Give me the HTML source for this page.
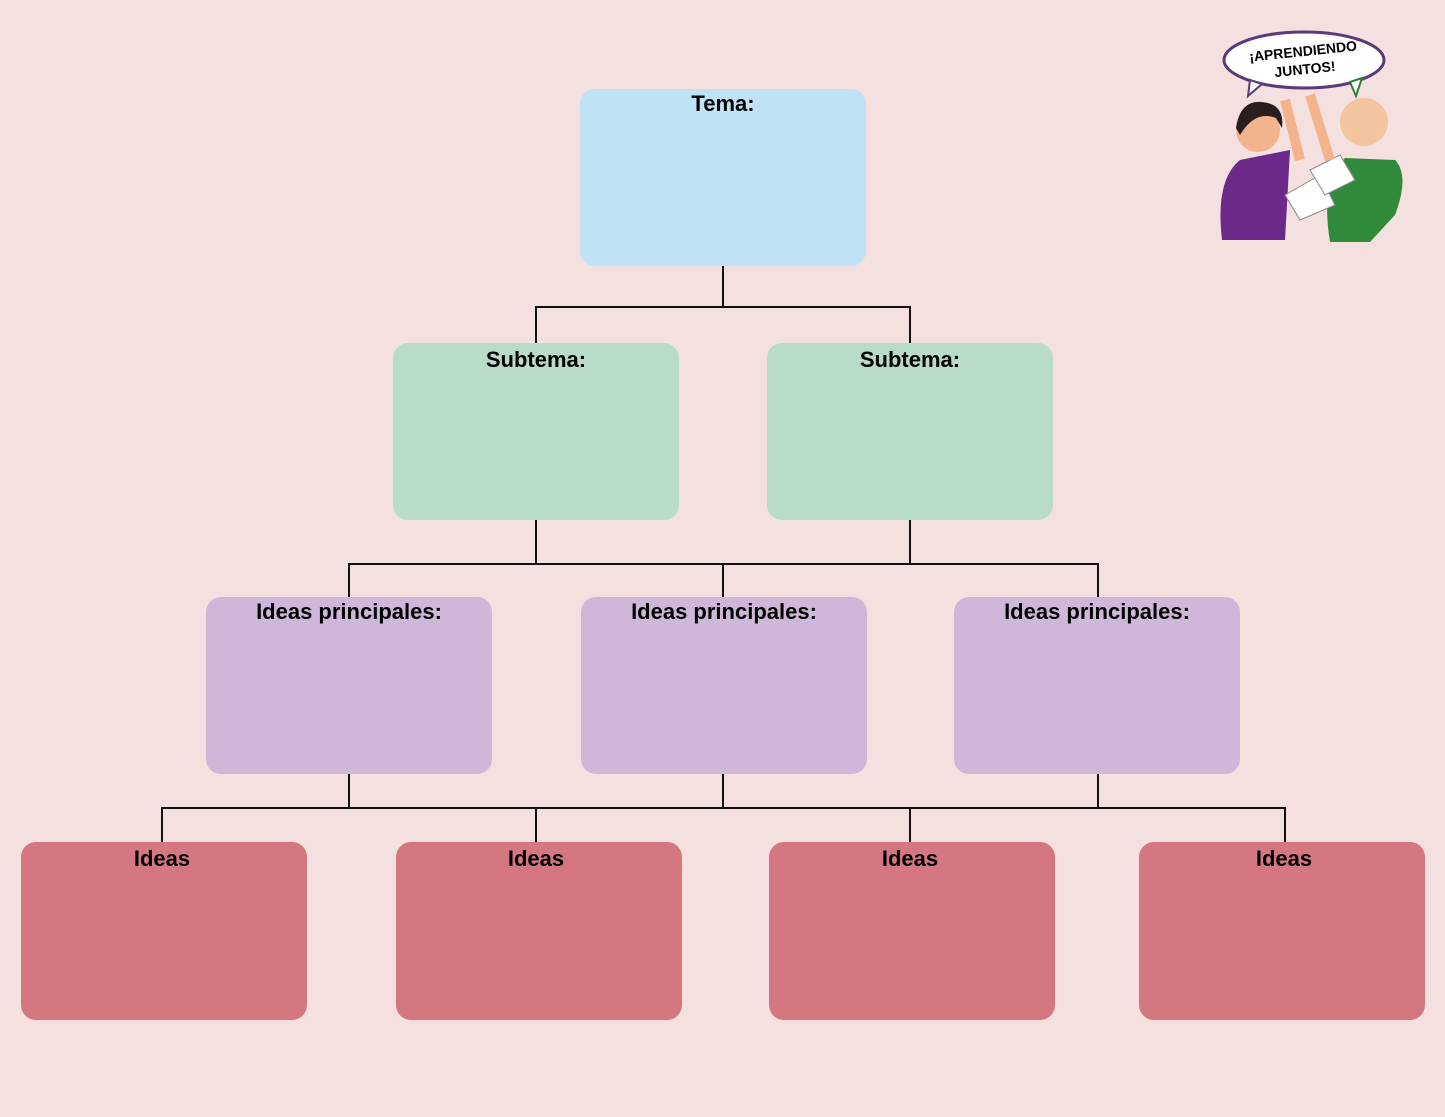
<!DOCTYPE html>
<html><head><style>
body{margin:0;width:1445px;height:1117px;background:#f3e0df;position:relative;overflow:hidden;font-family:"Liberation Sans",Arial,sans-serif}
.b{position:absolute;width:286px;height:177px;border-radius:15px;text-align:center;font-weight:bold;font-size:22px;line-height:1;padding-top:4px;box-sizing:border-box;color:#000}
.t{background:#c0e2f5}.s{background:#b8dcc8}.p{background:#cfb7da}.i{background:#d47780}
svg{position:absolute;left:0;top:0}
</style></head><body>
<svg width="1445" height="1117">
<g stroke="#111" stroke-width="2" fill="none">
<path d="M723 266V307M536 343V307H910V343"/>
<path d="M536 520V564M910 520V564M349 597V564H1098V597M723 564V597"/>
<path d="M349 774V808M723 774V808M1098 774V808M162 842V808H1285V842M536 808V842M910 808V842"/>
</g>
<g>
<ellipse cx="1304" cy="60" rx="80" ry="28" fill="#fff" stroke="#5a3a7a" stroke-width="3"/>
<path d="M1250 80 L1248 96 L1262 84Z" fill="#fff" stroke="#5a3a7a" stroke-width="2"/>
<path d="M1350 82 L1356 96 L1362 78Z" fill="#fff" stroke="#2e7d32" stroke-width="2"/>
<text x="1304" y="56" font-size="14" font-weight="bold" text-anchor="middle" font-family="Liberation Sans" transform="rotate(-6 1304 60)">¡APRENDIENDO</text>
<text x="1304" y="74" font-size="14" font-weight="bold" text-anchor="middle" font-family="Liberation Sans" transform="rotate(-6 1304 60)">JUNTOS!</text>
<path d="M1222 240 Q1215 180 1240 160 L1290 150 L1285 240Z" fill="#6b2a8a"/>
<circle cx="1258" cy="130" r="22" fill="#f2b38d"/>
<path d="M1236 128 Q1240 100 1262 102 Q1285 104 1282 128 L1276 118 Q1255 110 1240 135Z" fill="#2a1e1e"/>
<path d="M1330 242 Q1320 180 1345 158 L1395 160 Q1410 175 1395 215 L1370 242Z" fill="#2f8a3a"/>
<circle cx="1364" cy="122" r="24" fill="#f2c4a0"/>
<path d="M1285 195 L1320 175 L1335 205 L1300 220Z" fill="#fff" stroke="#888"/>
<path d="M1310 170 L1340 155 L1355 180 L1325 195Z" fill="#fff" stroke="#888"/>
<path d="M1285 100 L1300 160 M1310 95 L1330 160" stroke="#f2b38d" stroke-width="10"/>
</g>
</svg>
<div class="b t" style="left:580px;top:89px">Tema:</div>
<div class="b s" style="left:393px;top:343px;padding-top:6px">Subtema:</div>
<div class="b s" style="left:767px;top:343px;padding-top:6px">Subtema:</div>
<div class="b p" style="left:206px;top:597px;padding-top:4px">Ideas principales:</div>
<div class="b p" style="left:581px;top:597px;padding-top:4px">Ideas principales:</div>
<div class="b p" style="left:954px;top:597px;padding-top:4px">Ideas principales:</div>
<div class="b i" style="left:21px;top:842px;height:178px;padding-top:6px;padding-right:4px">Ideas</div>
<div class="b i" style="left:396px;top:842px;height:178px;padding-top:6px;padding-right:6px">Ideas</div>
<div class="b i" style="left:769px;top:842px;height:178px;padding-top:6px;padding-right:4px">Ideas</div>
<div class="b i" style="left:1139px;top:842px;height:178px;padding-top:6px;padding-left:4px">Ideas</div>
</body></html>
